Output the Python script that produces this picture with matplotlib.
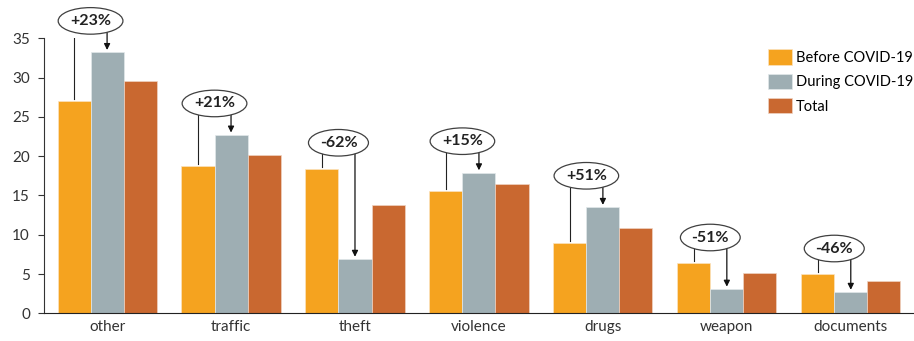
import numpy as np
import matplotlib.pyplot as plt

plt.rcParams['font.family'] = ['Lato', 'DejaVu Sans']

categories = ["other", "traffic", "theft", "violence", "drugs", "weapon", "documents"]
before = [27.0, 18.7, 18.4, 15.6, 8.9, 6.35, 4.95]
during = [33.2, 22.7, 6.9, 17.9, 13.5, 3.1, 2.7]
total = [29.5, 20.2, 13.8, 16.5, 10.8, 5.1, 4.1]
changes = ["+23%", "+21%", "-62%", "+15%", "+51%", "-51%", "-46%"]

c_before = "#F5A31F"
c_during = "#9EAEB3"
c_total = "#C96830"

fig = plt.figure(figsize=(9.14, 3.41), dpi=100)
ax = fig.add_axes([0.048, 0.081, 0.952, 0.807])

x = np.arange(len(categories))
w = 0.8 / 3
ax.bar(x - w, before, w, color=c_before, edgecolor="#FBE3C0", linewidth=0.5, label="Before COVID-19")
ax.bar(x, during, w, color=c_during, edgecolor="#E2E8EA", linewidth=0.5, label="During COVID-19")
ax.bar(x + w, total, w, color=c_total, edgecolor="#EFD3C3", linewidth=0.5, label="Total")

# change labels: line from the "before" bar, arrow down to the "during" bar
for i in range(len(categories)):
    b, d = before[i], during[i]
    ye = max(b, d) + (4.0 if d > b else 3.3)
    ax.plot([x[i] - w, x[i] - w], [b + 0.25, ye], color="#222222", lw=0.8, zorder=3)
    ax.annotate("", xy=(x[i], d + 0.3), xytext=(x[i], ye),
                arrowprops=dict(arrowstyle="-|>", color="#111111", lw=0.9,
                                mutation_scale=9, shrinkA=0, shrinkB=0),
                zorder=3)
    ax.text(x[i] - w / 2, ye, changes[i], ha="center", va="center",
            fontsize=11.5, fontweight="bold", color="#222222", zorder=6,
            bbox=dict(boxstyle="ellipse,pad=0.15", fc="white", ec="#404040", lw=0.9))

ax.set_xlim(-0.51, 6.51)
ax.set_ylim(0, 35)
ax.set_yticks(range(0, 36, 5))
ax.set_xticks(x)
ax.set_xticklabels(categories)
ax.tick_params(axis="x", length=0, labelsize=11, pad=5, colors="#333333")
ax.tick_params(axis="y", length=4, labelsize=11, colors="#333333", pad=6)
for s in ["top", "right"]:
    ax.spines[s].set_visible(False)
ax.spines["left"].set_color("#333333")
ax.spines["bottom"].set_color("#222222")

leg = ax.legend(loc="upper left", bbox_to_anchor=(761 / 914, 1 - 42 / 341),
                bbox_transform=fig.transFigure, frameon=False, fontsize=10.5,
                handlelength=1.65, handleheight=1.25, handletextpad=0.25,
                labelspacing=0.6, borderpad=0)

fig.savefig("out.png", dpi=100)
